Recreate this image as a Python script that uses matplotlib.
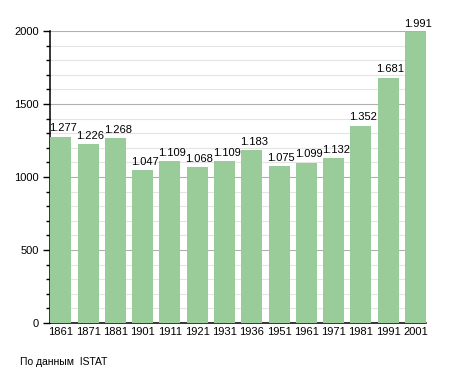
import matplotlib
matplotlib.use("Agg")
import matplotlib.pyplot as plt
from matplotlib.ticker import MultipleLocator

years = ["1861", "1871", "1881", "1901", "1911", "1921", "1931", "1936",
         "1951", "1961", "1971", "1981", "1991", "2001"]
population = [1277, 1226, 1268, 1047, 1109, 1068, 1109, 1183,
              1075, 1099, 1132, 1352, 1681, 1991]
value_labels = ["1.277", "1.226", "1.268", "1.047", "1.109", "1.068", "1.109",
                "1.183", "1.075", "1.099", "1.132", "1.352", "1.681", "1.991"]

plt.rcParams['font.family'] = ['Liberation Sans', 'DejaVu Sans']

fig = plt.figure(figsize=(4.55, 3.73), dpi=100)
ax = fig.add_axes([50/455, 1-323/373, 376/455, 292/373])

x = list(range(len(years)))
ax.bar(x, population, width=0.77, color="#99cc99", zorder=3)
for xi, v, lab in zip(x, population, value_labels):
    ax.text(xi + 0.08, v + 22, lab, ha="center", va="bottom", fontsize=8, color="black", zorder=4)

ax.set_xlim(-0.4, 13.39)
ax.set_ylim(0, 2000)
ax.set_xticks(x)
ax.set_xticklabels(years, fontsize=8)
ax.yaxis.set_major_locator(MultipleLocator(500))
ax.yaxis.set_minor_locator(MultipleLocator(100))
ax.tick_params(axis="y", which="major", length=5, width=1, labelsize=8, pad=3)
ax.tick_params(axis="y", which="minor", length=3, width=1)
ax.tick_params(axis="x", length=0, labelsize=8, pad=3)
ax.grid(axis="y", which="major", color="#b0b0b0", linewidth=0.8, zorder=0)
ax.grid(axis="y", which="minor", color="#e4e4e4", linewidth=0.8, zorder=0)
for s in ["top", "right"]:
    ax.spines[s].set_visible(False)
ax.spines["left"].set_linewidth(1.1)
ax.spines["bottom"].set_linewidth(1.1)

fig.text(20/455, 1-362/373, "По данным  ISTAT", fontsize=7.5, ha="left", va="center")

fig.savefig("out.png", dpi=100)
